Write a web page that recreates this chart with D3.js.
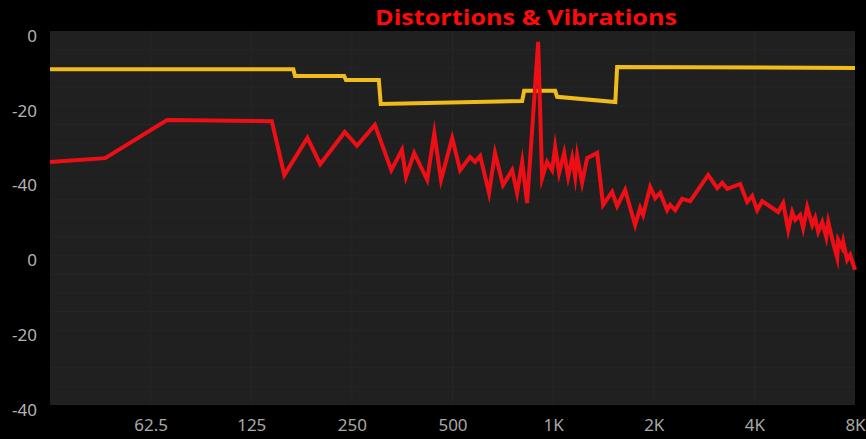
<!DOCTYPE html>
<html>
<head>
<meta charset="utf-8">
<script src="https://cdn.jsdelivr.net/npm/d3@7"></script>
<style>
	html, body { margin: 0; padding: 0; background: #000; }
	#graphic { width: 866px; height: 439px; }
	.axis text { font-family: "Noto Sans", "Open Sans", sans-serif; }
	.axis path, .axis line { display: none; }
</style>
</head>
<body>
<div id="graphic"></div>
<script>
// frequency (Hz) / level (dB)
const distFreq = [31.25, 45.7, 70, 144, 157, 184, 201, 238, 259, 293, 328, 353, 363, 384, 420, 441, 462, 499, 527, 564,
	584, 605, 643, 670, 708, 754, 780, 808, 836, 902, 927, 959, 993, 1014, 1042, 1079, 1109, 1140, 1164, 1180,
	1221, 1264, 1354, 1411, 1501, 1554, 1642, 1759, 1821, 1859, 1951, 2020, 2091, 2193, 2239, 2318, 2432, 2571, 2910, 3096,
	3206, 3316, 3628, 3806, 3940, 4078, 4222, 4713, 4878, 5050, 5191, 5300, 5484, 5597, 5756, 5959, 6081, 6209, 6384, 6563,
	6653, 6884, 7078, 7125, 7325, 7378, 7578, 7738, 8000];
const distLevel = [-35.0, -34.0, -23.8, -24.1, -38.5, -28.6, -35.6, -27.0, -30.7, -25.1, -37.2, -31.8, -39.0, -32.6, -39.8, -27.3, -39.8, -28.6, -37.2, -33.7,
	-35.0, -33.4, -43.3, -32.6, -41.2, -37.2, -43.3, -35.0, -46.0, -2.9, -39.3, -35.0, -37.2, -31.0, -38.0, -32.6, -39.0, -34.0, -39.0, -33.4,
	-40.6, -34.0, -32.6, -46.5, -43.0, -46.8, -42.5, -51.9, -47.3, -49.2, -41.7, -44.7, -43.3, -47.9, -46.5, -47.9, -44.9, -45.5, -38.5, -42.0,
	-40.6, -42.2, -40.9, -45.7, -44.1, -47.9, -45.5, -48.4, -46.0, -53.2, -48.4, -50.5, -49.2, -52.7, -47.1, -51.9, -50.0, -53.7, -51.1, -55.1,
	-51.1, -56.7, -60.7, -55.9, -58.0, -56.4, -61.2, -59.9, -63.9];

const limitFreq = [31.25, 167, 169, 237, 240, 301, 305, 808, 819, 1014, 1028, 1535, 1554, 8000];
const limitLevel = [-10.2, -10.2, -12.0, -12.0, -13.1, -13.1, -19.5, -18.7, -16.0, -16.0, -17.6, -19.0, -9.6, -9.9];

const xTicks = [62.5, 125, 250, 500, 1000, 2000, 4000, 8000];
const xTickLabels = ["62.5", "125", "250", "500", "1K", "2K", "4K", "8K"];
const yTicks = [0, -20, -40, -60, -80, -100];
const yTickLabels = ["0", "-20", "-40", "0", "-20", "-40"];

const titleText = "Distortions & Vibrations";

let graphic = d3.select('#graphic');

function drawGraphic() {
	const width = 866, height = 439;
	const margin = { top: 31, right: 11, bottom: 34, left: 50 };
	const chartWidth = width - margin.left - margin.right;
	const chartHeight = height - margin.top - margin.bottom;

	let svg = graphic.append('svg')
		.attr('width', width)
		.attr('height', height)
		.style('display', 'block')
		.style('background', '#000');

	svg.append('text')
		.attr('x', 526)
		.attr('y', 25)
		.attr('text-anchor', 'middle')
		.attr('textLength', 302)
		.attr('lengthAdjust', 'spacingAndGlyphs')
		.style('font-family', '"Open Sans", "Noto Sans", sans-serif')
		.style('font-weight', 700)
		.style('font-size', '21px')
		.attr('fill', '#ff0a0a')
		.text(titleText);

	let g = svg.append('g')
		.attr('transform', `translate(${margin.left},${margin.top})`);

	const x = d3.scaleLog().base(2)
		.domain([31.25, 8000])
		.range([0, chartWidth]);

	const y = d3.scaleLinear()
		.domain([0, -100])
		.range([0, chartHeight]);

	// plot panel
	g.append('rect')
		.attr('width', chartWidth)
		.attr('height', chartHeight)
		.attr('fill', '#202020');

	// faint grid, every 5 dB and every octave
	g.append('g')
		.selectAll('line')
		.data(d3.range(-5, -100, -5))
		.join('line')
		.attr('x1', 0)
		.attr('x2', chartWidth)
		.attr('y1', (d) => y(d))
		.attr('y2', (d) => y(d))
		.attr('stroke', '#252525')
		.attr('stroke-width', 1);

	g.append('g')
		.selectAll('line')
		.data(xTicks.slice(0, -1))
		.join('line')
		.attr('x1', (d) => x(d))
		.attr('x2', (d) => x(d))
		.attr('y1', 0)
		.attr('y2', chartHeight)
		.attr('stroke', '#262626')
		.attr('stroke-width', 1);

	// axes
	let yAxis = d3.axisLeft(y)
		.tickValues(yTicks)
		.tickSize(0)
		.tickPadding(13)
		.tickFormat((d, i) => yTickLabels[i]);

	g.append('g')
		.attr('class', 'y axis')
		.call(yAxis)
		.selectAll('text')
		.attr('dy', '0.6em')
		.attr('fill', '#b4b4b4')
		.style('font-size', '17px');

	let xAxis = d3.axisBottom(x)
		.tickValues(xTicks)
		.tickSize(0)
		.tickPadding(14)
		.tickFormat((d, i) => xTickLabels[i]);

	g.append('g')
		.attr('class', 'x axis')
		.attr('transform', `translate(0,${chartHeight})`)
		.call(xAxis)
		.selectAll('text')
		.attr('fill', '#a8a8a8')
		.style('font-size', '17px');

	const line = d3.line()
		.x((d) => x(d[0]))
		.y((d) => y(d[1]));

	const limitData = d3.zip(limitFreq, limitLevel);
	const distData = d3.zip(distFreq, distLevel);

	g.append('path')
		.datum(limitData)
		.attr('d', line)
		.attr('fill', 'none')
		.attr('stroke', '#f0bc1c')
		.attr('stroke-width', 4);

	g.append('path')
		.datum(distData)
		.attr('d', line)
		.attr('fill', 'none')
		.attr('stroke', '#ee0f16')
		.attr('stroke-width', 4)
		.attr('stroke-linejoin', 'miter')
		.attr('stroke-miterlimit', 10);
}

drawGraphic();
</script>
</body>
</html>
